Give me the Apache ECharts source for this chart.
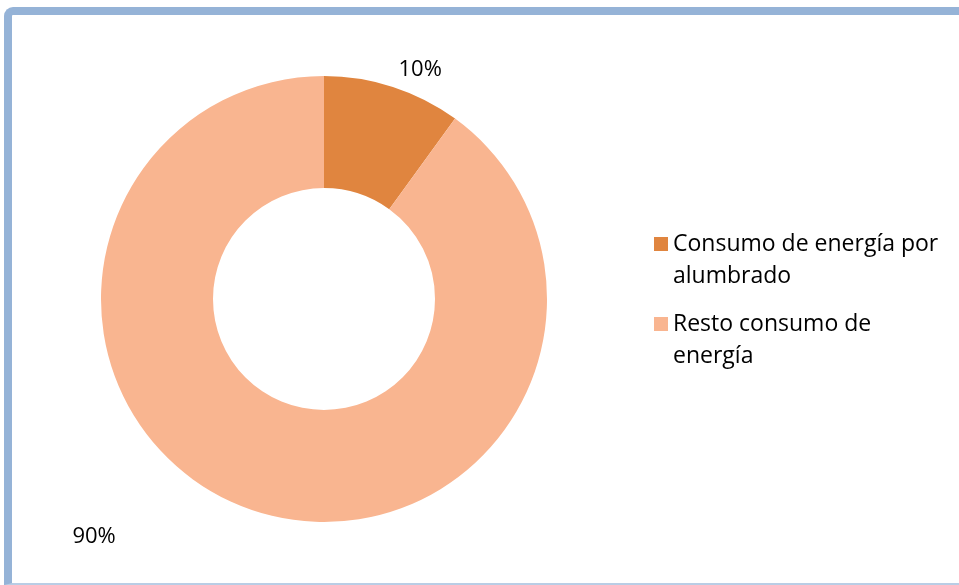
<!DOCTYPE html>
<html>
<head>
<meta charset="utf-8">
<script src="https://cdn.jsdelivr.net/npm/echarts@6/dist/echarts.min.js"></script>
<style>
  html, body { margin: 0; padding: 0; background: #fff; overflow: hidden; }
  #chart { position: absolute; left: 0; top: 0; width: 959px; height: 585px; }
  #frame {
    position: absolute; left: 4px; top: 7px; width: 1000px; height: 568px;
    border-top: 8px solid #95B3D7; border-left: 8px solid #95B3D7;
    border-bottom: 2px solid #B9CDE5; border-radius: 9px 0 0 0;
    pointer-events: none;
  }
</style>
</head>
<body>
<div id="chart"></div>
<div id="frame"></div>
<script>
const categories = ["Consumo de energía por alumbrado", "Resto consumo de energía"];
const shares = [10, 90];
const colors = ["#E0853F", "#F9B590"];

const font = "Open Sans";
const legendFontSize = 23;
const legendMaxWidth = 275;

// word wrap for legend names, first line kept level with the square
const measureCtx = document.createElement("canvas").getContext("2d");
measureCtx.font = legendFontSize + 'px "' + font + '"';
function wrapName(name) {
  const words = name.split(" ");
  const lines = [];
  let line = "";
  words.forEach((w) => {
    const next = line ? line + " " + w : w;
    if (line && measureCtx.measureText(next).width > legendMaxWidth) {
      lines.push(line);
      line = w;
    } else {
      line = next;
    }
  });
  lines.push(line);
  return "\n" + lines.join("\n");
}

const chart = echarts.init(document.getElementById("chart"));

const options = {
  animation: false,
  color: colors,
  legend: {
    orient: "vertical",
    left: 654,
    top: 196,
    padding: 0,
    itemGap: -16,
    itemWidth: 14,
    itemHeight: 14,
    icon: "rect",
    data: categories,
    formatter: wrapName,
    textStyle: {
      fontFamily: font,
      fontSize: legendFontSize,
      color: "#000",
      lineHeight: 32,
    },
  },
  series: [
    {
      type: "pie",
      center: [324, 299],
      radius: [111, 223],
      startAngle: 90,
      clockwise: true,
      avoidLabelOverlap: false,
      label: {
        show: true,
        position: "outside",
        formatter: "{d}%",
        fontFamily: font,
        fontSize: 22,
        color: "#000",
        distanceToLabelLine: 0,
      },
      labelLine: { show: false },
      emphasis: { disabled: true },
      data: categories.map((name, i) => ({
        name: name,
        value: shares[i],
        labelLine: i === 0 ? { show: false, length: 18, length2: 0 } : { show: false, length: 27, length2: 131 },
      })),
    },
  ],
};

chart.setOption(options);
</script>
</body>
</html>
